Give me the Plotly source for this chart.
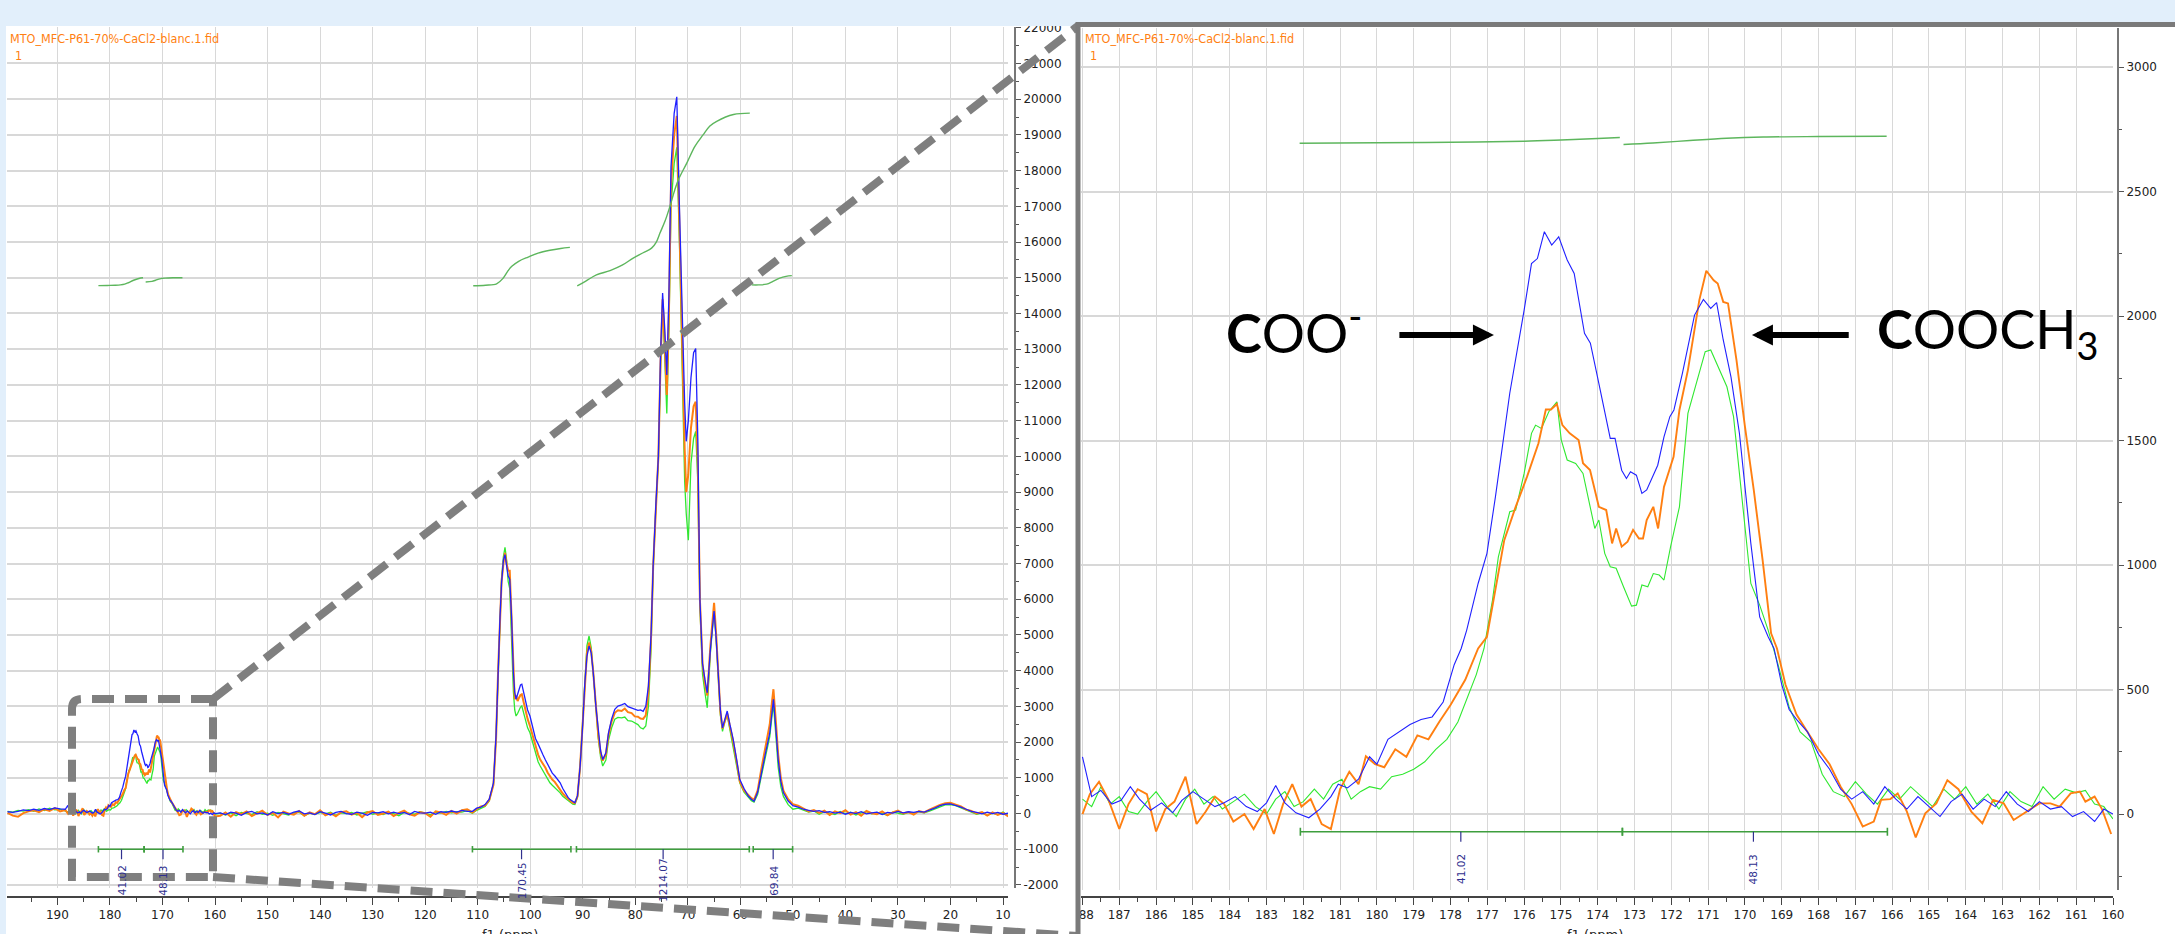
import plotly.graph_objects as go

W, H = 2175, 934

# ---------------- zoomed carbonyl region (188 -> 160 ppm): (ppm, intensity) ----------------
blue_zoom = [
    (188.0, 230), (187.75, 70), (187.5, 95), (187.2, 40), (186.95, 55), (186.7, 110), (186.45, 60),
    (186.15, 15), (185.85, 45), (185.55, 5), (185.3, 55), (185.0, 90), (184.7, 60), (184.4, 30),
    (184.15, 45), (183.85, 70), (183.55, 30), (183.25, 10), (183.0, 45), (182.75, 115), (182.5, 45),
    (182.2, 5), (181.85, -15), (181.55, 20), (181.25, 70), (181.05, 120), (180.8, 105), (180.5, 140),
    (180.2, 230), (180.0, 200), (179.7, 300), (179.4, 330), (179.1, 360), (178.8, 380), (178.5, 390),
    (178.2, 450), (177.9, 600), (177.71, 665), (177.56, 739), (177.25, 926), (177.01, 1047),
    (176.78, 1274), (176.39, 1690), (176.0, 2024), (175.8, 2211), (175.64, 2231), (175.45, 2339),
    (175.25, 2285), (175.06, 2318), (174.83, 2225), (174.64, 2171), (174.36, 1931), (174.2, 1891),
    (173.97, 1730), (173.66, 1509), (173.53, 1509), (173.35, 1381), (173.22, 1348), (173.11, 1375),
    (172.95, 1361), (172.8, 1288), (172.67, 1302), (172.48, 1368), (172.37, 1401), (172.2, 1515),
    (172.04, 1596), (171.93, 1623), (171.7, 1770), (171.37, 2004), (171.13, 2067), (170.93, 2031),
    (170.77, 2054), (170.59, 1904), (170.38, 1756), (170.15, 1529), (169.84, 1087), (169.6, 792),
    (169.37, 712), (169.21, 665), (169.0, 520), (168.8, 420), (168.6, 380), (168.3, 330), (168.0, 240),
    (167.7, 180), (167.4, 100), (167.1, 60), (166.8, 90), (166.5, 40), (166.2, 110), (165.9, 60),
    (165.6, 20), (165.3, 70), (165.0, 30), (164.7, -10), (164.4, 50), (164.1, 80), (163.8, 20),
    (163.5, 60), (163.2, 30), (162.9, 90), (162.6, 40), (162.3, 10), (162.0, 50), (161.7, 20),
    (161.4, 30), (161.1, -10), (160.8, 10), (160.5, -30), (160.25, 20), (160.0, 0),
]
orange_zoom = [
    (188.0, 0), (187.8, 80), (187.55, 130), (187.3, 60), (187.0, -60), (186.75, 40), (186.5, 100),
    (186.25, 80), (186.0, -70), (185.75, 20), (185.5, 50), (185.2, 150), (184.9, -40), (184.65, 10),
    (184.4, 70), (184.15, 40), (183.9, -30), (183.6, 0), (183.35, -60), (183.05, 20), (182.8, -80),
    (182.55, 40), (182.3, 120), (182.05, 30), (181.8, 60), (181.5, -40), (181.25, -60), (181.0, 100),
    (180.75, 170), (180.5, 120), (180.3, 232), (180.05, 200), (179.8, 188), (179.5, 260), (179.2, 230),
    (178.9, 316), (178.6, 300), (178.3, 372), (178.0, 438), (177.6, 539), (177.25, 665), (177.01, 712),
    (176.54, 1100), (176.23, 1234), (175.92, 1355), (175.61, 1489), (175.41, 1625), (175.27, 1625),
    (175.11, 1647), (174.96, 1562), (174.76, 1529), (174.52, 1502), (174.4, 1409), (174.21, 1382),
    (173.97, 1234), (173.77, 1221), (173.61, 1087), (173.5, 1147), (173.35, 1074), (173.19, 1094),
    (173.04, 1141), (172.88, 1107), (172.77, 1107), (172.67, 1181), (172.49, 1234), (172.36, 1147),
    (172.2, 1314), (171.94, 1435), (171.78, 1623), (171.55, 1783), (171.24, 2064), (171.05, 2182),
    (170.85, 2144), (170.74, 2131), (170.59, 2057), (170.46, 2051), (170.23, 1823), (170.0, 1556),
    (169.76, 1301), (169.52, 1020), (169.29, 726), (169.13, 665), (168.9, 520), (168.6, 400),
    (168.3, 330), (168.0, 260), (167.7, 200), (167.4, 110), (167.1, 40), (166.8, -50), (166.5, -30),
    (166.3, 57), (166.05, 60), (165.85, 83), (165.6, 10), (165.36, -94), (165.1, 3), (164.8, 43),
    (164.5, 136), (164.2, 100), (163.85, 10), (163.55, -37), (163.26, 57), (162.97, 43), (162.7, -24),
    (162.3, 16), (162.0, 43), (161.7, 43), (161.45, 30), (161.15, 83), (160.9, 90), (160.75, 50),
    (160.5, 70), (160.3, 20), (160.05, -80),
]
green_zoom = [
    (188.0, 60), (187.75, 30), (187.5, 110), (187.25, 40), (187.0, 70), (186.75, 10), (186.5, 0),
    (186.25, 50), (186.0, 90), (185.7, 30), (185.45, -10), (185.2, 60), (184.95, 100), (184.7, 40),
    (184.45, 70), (184.2, 20), (183.9, 50), (183.6, 80), (183.3, 30), (183.0, 0), (182.75, 60),
    (182.5, 90), (182.25, 30), (182.0, 50), (181.7, 100), (181.45, 60), (181.2, 120), (180.95, 140),
    (180.7, 60), (180.45, 90), (180.2, 110), (179.9, 100), (179.6, 150), (179.3, 160), (179.0, 180),
    (178.7, 210), (178.4, 260), (178.1, 300), (177.8, 370), (177.5, 480), (177.3, 560), (177.09, 665),
    (176.86, 859), (176.7, 1033), (176.39, 1214), (176.23, 1221), (176.0, 1368), (175.8, 1529),
    (175.69, 1562), (175.53, 1549), (175.33, 1616), (175.11, 1656), (174.99, 1502), (174.83, 1422),
    (174.6, 1408), (174.4, 1368), (174.21, 1234), (174.08, 1147), (173.97, 1181), (173.81, 1047),
    (173.66, 993), (173.5, 987), (173.3, 913), (173.08, 835), (172.95, 839), (172.8, 920),
    (172.64, 913), (172.49, 966), (172.33, 960), (172.2, 940), (172.02, 1074), (171.78, 1234),
    (171.55, 1609), (171.31, 1736), (171.08, 1857), (170.93, 1864), (170.69, 1783), (170.49, 1716),
    (170.31, 1596), (170.07, 1261), (169.84, 926), (169.6, 839), (169.37, 739), (169.1, 600),
    (168.8, 430), (168.5, 330), (168.2, 290), (167.9, 160), (167.6, 90), (167.3, 70), (167.0, 130),
    (166.7, 80), (166.4, 40), (166.1, 100), (165.8, 60), (165.5, 110), (165.2, 70), (164.9, 30),
    (164.6, 100), (164.3, 60), (164.0, 110), (163.7, 40), (163.4, 80), (163.1, 20), (162.8, 90),
    (162.5, 50), (162.2, 30), (161.9, 110), (161.6, 60), (161.3, 100), (161.0, 85), (160.75, 95),
    (160.5, 40), (160.25, 30), (160.0, -20),
]

# ---------------- full spectrum (left panel), outside the zoomed region ----------------
grid_A_ppm = [199.5, 198.5, 197.5, 196.5, 195.5, 194.5, 193.5, 192.5, 191.5, 190.5, 189.5, 188.5]
orange_A = [20, -60, -90, 10, 60, 90, 40, 120, 70, 150, 60, 100]
green_A = [60, 40, 90, 70, 110, 60, 130, 80, 150, 100, 120, 70]
blue_A = [50, 30, 60, 100, 80, 120, 90, 140, 110, 160, 130, 120]

grid_B_ppm = list(range(159, 111, -1))
blue_B = [20, -30, 40, 10, -50, 30, 60, -10, 20, -40,
          50, 0, 30, -20, 40, 70, -10, 20, -30, 50,
          10, -40, 30, 60, 0, -20, 40, 10, -50, 30,
          20, 50, -10, 40, 0, 30, -30, 60, 20, 10,
          40, -20, 50, 30, 70, 40, 90, 60]
orange_B = [-60, 30, -90, 40, -20, 60, -70, 10, 80, -40,
            20, -110, 50, 0, -30, 70, -60, 30, -20, 90,
            -50, 10, -80, 40, 60, -30, 20, -100, 30, 70,
            -40, 0, 50, -70, 20, 80, -20, -60, 40, 10,
            -90, 60, 30, -40, 70, 0, 90, 120]
green_B = [10, -40, 20, -60, 30, 0, -30, 50, -20, 10,
           -50, 30, 0, -40, 20, 40, -60, 10, -20, 30,
           -10, 40, -50, 20, 0, 30, -40, 10, 50, -20,
           20, -30, 40, 0, -60, 30, 10, -20, 50, 0,
           -40, 30, 10, 60, 20, 50, 40, 80]

grid_C_ppm = [111.0, 110.2, 109.4, 108.6, 107.8, 107.0, 106.5, 106.1, 105.75, 105.45,
              105.1, 104.8, 104.5, 104.2, 103.9, 103.55, 103.2, 102.95, 102.7, 102.4,
              102.1, 101.85, 101.6, 101.3, 100.9, 100.5, 100.05, 99.5, 99.0, 98.5,
              98.1, 97.6, 97.1, 96.7, 96.25, 95.8, 95.3, 94.8, 94.3, 93.8,
              93.3, 92.8, 92.4, 91.9, 91.5, 91.0, 90.5, 90.0, 89.6, 89.2,
              88.8, 88.4, 88.0, 87.5, 87.05, 86.6, 86.2, 85.6, 85.1, 84.5,
              83.9, 83.3, 82.6, 82.0, 81.4, 80.7, 80.1, 79.5, 79.0, 78.5,
              78.0, 77.5, 77.0, 76.6, 76.1, 75.6, 75.2, 74.8, 74.4, 74.0,
              73.6, 73.2, 72.6, 72.1, 71.6, 71.05, 70.6, 70.3, 69.9, 69.4,
              68.9, 68.5, 68.1, 67.7, 67.2, 66.75, 66.3, 65.7, 65.0, 64.6,
              64.2, 63.8, 63.4, 62.9, 62.5, 62.0, 61.35, 60.7, 60.1, 59.3,
              58.5, 57.9, 57.4, 56.7, 56.0, 55.2, 54.4, 54.0, 53.7, 53.2,
              52.8, 52.3, 51.8, 50.9, 50.0]
blue_C = [60, 150, 180, 250, 400, 860, 2200, 4130, 5500, 6470,
          7100, 7250, 6900, 6650, 6560, 5500, 3940, 3400, 3200, 3350,
          3500, 3600, 3620, 3400, 3100, 2900, 2730, 2400, 2100, 1950,
          1800, 1650, 1500, 1380, 1230, 1130, 1050, 950, 860, 700,
          560, 450, 390, 330, 300, 500, 1330, 2500, 3660, 4400,
          4690, 4500, 3940, 3000, 2260, 1750, 1510, 1700, 2260, 2650,
          2920, 3010, 3040, 3080, 2990, 2960, 2930, 2890, 2900, 2860,
          3000, 3570, 5000, 6930, 8600, 10000, 12800, 14570, 13600, 12280,
          14500, 18100, 19600, 20065, 17000, 13700, 11500, 10420, 11000, 12200,
          12900, 13020, 10500, 6000, 4200, 3760, 3380, 4600, 5670, 4900,
          3760, 2900, 2400, 2700, 2870, 2500, 2070, 1500, 950, 700,
          490, 400, 345, 600, 1140, 1700, 2260, 2800, 3200, 2300,
          1510, 900, 580, 350, 220]
orange_C = [30, 120, 200, 220, 380, 800, 2100, 4050, 5500, 6500,
            7000, 7300, 7000, 6800, 6800, 5300, 3700, 3200, 3300, 3150,
            3250, 3320, 3340, 3150, 2850, 2650, 2450, 2150, 1850, 1650,
            1510, 1400, 1280, 1150, 1050, 950, 880, 760, 670, 560,
            480, 420, 350, 300, 290, 480, 1330, 2550, 3700, 4500,
            4785, 4550, 3950, 2950, 2200, 1700, 1480, 1650, 2200, 2580,
            2820, 2890, 2870, 2940, 2840, 2810, 2720, 2710, 2660, 2650,
            2750, 3400, 4900, 6900, 8600, 10000, 12600, 14400, 13200, 11720,
            14000, 17600, 19000, 19530, 16500, 12800, 10200, 9000, 9500, 10800,
            11400, 11530, 9800, 6000, 4200, 3650, 3300, 4700, 5900, 5000,
            3700, 2850, 2380, 2650, 2800, 2450, 2000, 1450, 900, 650,
            520, 430, 380, 650, 1250, 1850, 2500, 3100, 3480, 2500,
            1650, 1000, 640, 400, 260]
green_C = [10, 90, 150, 200, 350, 820, 2150, 4100, 5600, 6600,
           7200, 7450, 7100, 6500, 6300, 4800, 3400, 2900, 2730, 2800,
           2900, 2980, 3010, 2850, 2600, 2400, 2260, 1950, 1650, 1450,
           1330, 1200, 1080, 960, 860, 790, 720, 640, 580, 480,
           420, 360, 300, 260, 250, 450, 1330, 2600, 3800, 4700,
           4970, 4650, 3950, 2900, 2100, 1580, 1330, 1500, 2050, 2400,
           2640, 2690, 2680, 2700, 2600, 2590, 2530, 2490, 2400, 2370,
           2450, 3000, 4600, 6800, 8500, 9900, 12400, 14250, 12800, 11200,
           13500, 17000, 18200, 18650, 16000, 12000, 9300, 8400, 7650, 9800,
           10500, 10700, 9300, 5800, 3900, 3400, 2960, 4500, 5700, 4850,
           3650, 2750, 2300, 2600, 2750, 2350, 1900, 1350, 850, 600,
           450, 360, 320, 540, 1050, 1600, 2150, 2700, 3060, 2100,
           1300, 750, 480, 250, 120]

grid_D_ppm = list(range(49, 8, -1))
blue_D = [180, 120, 90, 60, 80, 30, 50, 10, 40, -20,
          30, 0, 50, -10, 20, 40, -30, 30, 10, 60,
          20, 50, 30, 60, 40, 90, 150, 220, 260, 270,
          230, 180, 120, 60, 30, -10, 40, 0, 30, -20, 10]
orange_D = [220, 150, 60, 100, 20, 80, -40, 60, 10, 90,
            -30, 40, -60, 70, 10, -20, 60, -50, 30, 80,
            0, 40, -30, 70, 30, 110, 180, 240, 290, 300,
            250, 200, 110, 70, 0, 40, -60, 30, -40, 20, -80]
green_D = [150, 90, 40, 70, -20, 50, 10, -30, 60, 0,
           40, -40, 20, 50, -10, 30, 0, -50, 40, 20,
           -20, 30, 10, 50, 20, 70, 130, 200, 240, 250,
           220, 160, 90, 40, -20, 20, -50, 10, -30, 40, -60]

# ---------------- integral curves ----------------
left_integrals = [
    ([182.2, 180.5, 179.0, 178.0, 177.2, 176.5, 175.5, 174.5, 173.7],
     [14780, 14785, 14790, 14800, 14820, 14860, 14930, 14980, 15000]),
    ([173.2, 172.0, 171.3, 170.5, 169.5, 168.0, 166.2],
     [14880, 14900, 14930, 14970, 14990, 15000, 15000]),
    ([110.85, 108.5, 106.4, 105.2, 104.3, 103.5, 102.2, 100.4, 98.5, 96.25, 94.2, 92.45],
     [14775, 14790, 14830, 14980, 15180, 15320, 15460, 15580, 15690, 15770, 15820, 15850]),
    ([91.05, 89.5, 87.4, 84.8, 82.5, 80.4, 78.5, 76.9, 76.0, 75.3, 74.3, 73.4, 72.5, 71.8,
      70.2, 68.65, 67.1, 65.8, 64.5, 61.3, 58.2],
     [14775, 14900, 15080, 15200, 15350, 15550, 15700, 15830, 16000, 16250, 16600, 17000,
      17450, 17740, 18210, 18680, 19000, 19250, 19380, 19570, 19610]),
    ([57.85, 56.5, 55.0, 53.8, 52.5, 51.3, 50.2],
     [14800, 14800, 14820, 14900, 14990, 15040, 15060]),
]
right_integrals = [
    ([182.1, 180.0, 178.0, 176.0, 175.0, 174.0, 173.4],
     [2694, 2696, 2698, 2702, 2707, 2713, 2717]),
    ([173.3, 172.5, 171.5, 170.5, 169.5, 168.0, 166.15],
     [2689, 2695, 2705, 2714, 2719, 2721, 2722]),
]
left_bars = [(182.2, 173.5), (173.5, 166.1), (111.0, 92.25), (91.2, 58.3), (57.55, 50.05)]
right_bars = [(182.08, 173.33), (173.33, 166.13)]
left_int_labels = [("41.02", 177.8), ("48.13", 169.9), ("170.45", 101.65), ("1214.07", 74.7), ("69.84", 53.75)]
right_int_labels = [("41.02", 177.72), ("48.13", 169.77)]

FILE_LABEL = "MTO_MFC-P61-70%-CaCl2-blanc.1.fid"

ORANGE = "#FF7F11"
GREEN = "#30E830"
BLUE = "#2020FF"
INT_GREEN = "#5DB65D"
BAR_GREEN = "#3E9E3E"
NAVY = "#30308F"
GRID = "#D8D8D8"
BAND = "#E2EFFB"


def unzip(pairs):
    return [p[0] for p in pairs], [p[1] for p in pairs]


def P(x, y):
    return x / W, 1 - y / H


fig = go.Figure()

# ---- left overview spectra ----
series = [
    ("green", GREEN, 1.3, green_zoom, green_A, green_B, green_C, green_D),
    ("orange", ORANGE, 2.0, orange_zoom, orange_A, orange_B, orange_C, orange_D),
    ("blue", BLUE, 1.3, blue_zoom, blue_A, blue_B, blue_C, blue_D),
]
for name, col, lw, zoom, a, b, c, d in series:
    zx, zy = unzip(zoom)
    xs = grid_A_ppm + zx + grid_B_ppm + grid_C_ppm + grid_D_ppm
    ys = a + zy + b + c + d
    fig.add_trace(go.Scatter(x=xs, y=ys, mode="lines", line=dict(color=col, width=lw),
                             xaxis="x", yaxis="y", hoverinfo="skip", name=name))

# ---- right zoom spectra ----
for name, col, lw, zoom, *_ in series:
    zx, zy = unzip(zoom)
    fig.add_trace(go.Scatter(x=zx, y=zy, mode="lines",
                             line=dict(color=col, width=(1.9 if name == "orange" else 1.1)),
                             xaxis="x2", yaxis="y2", hoverinfo="skip", name=name))

# ---- integral curves ----
for xs, ys in left_integrals:
    fig.add_trace(go.Scatter(x=xs, y=ys, mode="lines", line=dict(color=INT_GREEN, width=1.4, shape="spline"),
                             xaxis="x", yaxis="y", hoverinfo="skip"))
for xs, ys in right_integrals:
    fig.add_trace(go.Scatter(x=xs, y=ys, mode="lines", line=dict(color=INT_GREEN, width=1.4, shape="spline"),
                             xaxis="x2", yaxis="y2", hoverinfo="skip"))


def bar_trace(bars, level, half, xa, ya):
    xs, ys = [], []
    for a, b in bars:
        xs += [a, a, None, a, b, None, b, b, None]
        ys += [level - half, level + half, None, level, level, None, level - half, level + half, None]
    return go.Scatter(x=xs, y=ys, mode="lines", line=dict(color=BAR_GREEN, width=1.6),
                      xaxis=xa, yaxis=ya, hoverinfo="skip")


def tick_trace(labels, top, bottom, xa, ya):
    xs, ys = [], []
    for _, x in labels:
        xs += [x, x, None]
        ys += [top, bottom, None]
    return go.Scatter(x=xs, y=ys, mode="lines", line=dict(color=NAVY, width=1.2),
                      xaxis=xa, yaxis=ya, hoverinfo="skip")


fig.add_trace(bar_trace(left_bars, -1000, 90, "x", "y"))
fig.add_trace(bar_trace(right_bars, -71, 16, "x2", "y2"))
fig.add_trace(tick_trace(left_int_labels, -1000, -1280, "x", "y"))
fig.add_trace(tick_trace(right_int_labels, -71, -111, "x2", "y2"))

annotations = []
for txt, x in left_int_labels:
    annotations.append(dict(text=txt, x=x, y=-1880, xref="x", yref="y", showarrow=False, textangle=-90,
                            font=dict(family="DejaVu Sans", size=10.5, color=NAVY)))
for txt, x in right_int_labels:
    annotations.append(dict(text=txt, x=x, y=-221, xref="x2", yref="y2", showarrow=False, textangle=-90,
                            font=dict(family="DejaVu Sans", size=10.5, color=NAVY)))

# file labels
for x0, x1 in [(8, 13), (1083, 1088)]:
    annotations.append(dict(text=FILE_LABEL, x=x0 / W, y=1 - 29 / H, xref="paper", yref="paper",
                            xanchor="left", yanchor="top", showarrow=False,
                            font=dict(family="DejaVu Sans Condensed, DejaVu Sans", size=12.5, color=ORANGE)))
    annotations.append(dict(text="1", x=x1 / W, y=1 - 55 / H, xref="paper", yref="paper",
                            xanchor="left", yanchor="middle", showarrow=False,
                            font=dict(family="DejaVu Sans Condensed, DejaVu Sans", size=12.5, color=ORANGE)))

# axis titles (cut at the bottom edge)
for xc in (510, 1595):
    annotations.append(dict(text="f1 (ppm)", x=xc / W, y=1 - 925 / H, xref="paper", yref="paper",
                            xanchor="center", yanchor="top", showarrow=False,
                            font=dict(family="DejaVu Sans", size=13, color="#222")))

# big labels + arrows in the zoom panel
annotations.append(dict(text="<b>C</b>OO<sup>-</sup>", x=182.25, y=1950, xref="x2", yref="y2",
                        showarrow=False, font=dict(family="Lato", size=54, color="black")))
annotations.append(dict(text="<b>C</b>OOCH<sub>3</sub>", x=163.4, y=1935, xref="x2", yref="y2",
                        showarrow=False, font=dict(family="Lato", size=54, color="black")))
annotations.append(dict(text="", x=176.82, y=1924, ax=179.43, ay=1924, xref="x2", yref="y2",
                        axref="x2", ayref="y2", showarrow=True, arrowhead=2, arrowsize=0.7,
                        arrowwidth=6, arrowcolor="black"))
annotations.append(dict(text="", x=169.81, y=1924, ax=167.14, ay=1924, xref="x2", yref="y2",
                        axref="x2", ayref="y2", showarrow=True, arrowhead=2, arrowsize=0.7,
                        arrowwidth=6, arrowcolor="black"))

# ---- decorative shapes (callout) ----
def pt(x, y):
    a, b = P(x, y)
    return f"{a:.5f},{b:.5f}"


DASH = dict(color="#7F7F7F", width=8, dash="22px,11px")
shapes = [
    dict(type="rect", xref="paper", yref="paper", x0=0, x1=1, y0=1 - 26 / H, y1=1,
         fillcolor=BAND, line=dict(width=0), layer="above"),
    dict(type="rect", xref="paper", yref="paper", x0=0, x1=6 / W, y0=0, y1=1,
         fillcolor=BAND, line=dict(width=0), layer="above"),
    dict(type="rect", xref="paper", yref="paper", x0=1058 / W, x1=1077 / W, y0=0, y1=1 - 900 / H,
         fillcolor="white", line=dict(width=0), layer="above"),
    dict(type="path", xref="paper", yref="paper", layer="above", line=DASH,
         path=f"M{pt(213, 699)} L{pt(82, 699)} Q{pt(72, 699)} {pt(72, 709)} L{pt(72, 877)} L{pt(213, 877)} Z"),
    dict(type="line", xref="paper", yref="paper", layer="above", line=DASH,
         x0=213 / W, y0=1 - 877 / H, x1=1078 / W, y1=1 - 936 / H),
    dict(type="line", xref="paper", yref="paper", layer="above", line=DASH,
         x0=213 / W, y0=1 - 699 / H, x1=1078 / W, y1=1 - 26 / H),
    dict(type="line", xref="paper", yref="paper", layer="above", line=dict(color="#7A7A7A", width=5),
         x0=1078 / W, y0=1 - 22 / H, x1=1078 / W, y1=0),
    dict(type="line", xref="paper", yref="paper", layer="above", line=dict(color="#7A7A7A", width=5),
         x0=1076 / W, y0=1 - 24.5 / H, x1=1, y1=1 - 24.5 / H),
]

TICKFONT = dict(family="DejaVu Sans", size=12, color="#222")

left_yvals = list(range(-2000, 22001, 1000))
right_yvals = list(range(0, 3001, 500))

fig.update_layout(
    width=W, height=H, margin=dict(l=0, r=0, t=0, b=0),
    paper_bgcolor="white", plot_bgcolor="white", showlegend=False,
    annotations=annotations, shapes=shapes,
    xaxis=dict(domain=[7 / W, 1008 / W], range=[199.6, 9.05], anchor="free", position=1 - 897 / H,
               tickmode="array", tickvals=list(range(10, 200, 10)),
               ticks="outside", ticklen=7, tickcolor="#444", tickfont=TICKFONT,
               minor=dict(tickvals=list(range(15, 200, 10)), ticks="outside", ticklen=4,
                          tickcolor="#444", showgrid=False),
               showgrid=True, gridcolor=GRID, gridwidth=1, zeroline=False,
               showline=True, linecolor="#444", linewidth=1.5, automargin=False),
    yaxis=dict(domain=[1 - 888 / H, 1 - 27 / H], range=[-2085, 22020], side="right",
               anchor="free", position=1015 / W,
               tickmode="array", tickvals=left_yvals, ticktext=[str(v) for v in left_yvals],
               ticks="outside", ticklen=5, tickcolor="#555", tickfont=TICKFONT,
               minor=dict(tickvals=list(range(-1500, 22000, 1000)), ticks="outside", ticklen=3,
                          tickcolor="#555", showgrid=False),
               showgrid=True, gridcolor=GRID, gridwidth=2, zeroline=False,
               showline=True, linecolor="#777", linewidth=2, automargin=False),
    xaxis2=dict(domain=[1081 / W, 2113 / W], range=[188.04, 160.0], anchor="free", position=1 - 897 / H,
                tickmode="array", tickvals=list(range(160, 189)),
                ticks="outside", ticklen=7, tickcolor="#444", tickfont=TICKFONT,
                minor=dict(tickvals=[v + 0.5 for v in range(160, 188)], ticks="outside", ticklen=4,
                           tickcolor="#444", showgrid=False),
                showgrid=True, gridcolor=GRID, gridwidth=1, zeroline=False,
                showline=True, linecolor="#444", linewidth=1.5, automargin=False),
    yaxis2=dict(domain=[1 - 890 / H, 1 - 28 / H], range=[-305, 3157], side="right",
                anchor="free", position=2118 / W,
                tickmode="array", tickvals=right_yvals, ticktext=[str(v) for v in right_yvals],
                ticks="outside", ticklen=5, tickcolor="#555", tickfont=TICKFONT,
                minor=dict(tickvals=list(range(-250, 3001, 500)), ticks="outside", ticklen=3,
                           tickcolor="#555", showgrid=False),
                showgrid=True, gridcolor=GRID, gridwidth=2, zeroline=False,
                showline=True, linecolor="#777", linewidth=2, automargin=False),
)

fig.write_html("out.html")
